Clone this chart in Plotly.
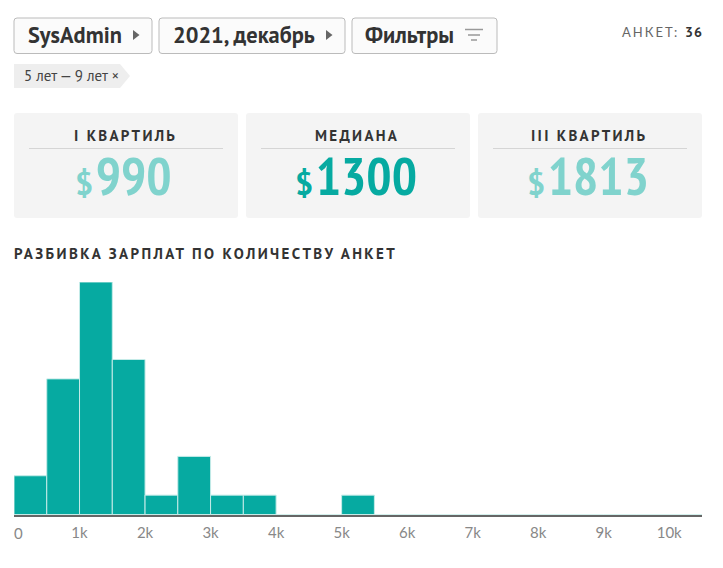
import plotly.graph_objects as go

# ----------------------------
# Data
# ----------------------------

bin_mids = [250, 750, 1250, 1750, 2250, 2750, 3250, 3750, 4250, 4750, 5250, 5750, 6250, 6750, 7250, 7750, 8250, 8750, 9250, 9750, 10250]
counts = [2, 7, 12, 8, 1, 3, 1, 1, 0, 0, 1, 0, 0, 0, 0, 0, 0, 0, 0, 0, 0]
tick_vals = [1000, 2000, 3000, 4000, 5000, 6000, 7000, 8000, 9000, 10000]
tick_text = ["1k", "2k", "3k", "4k", "5k", "6k", "7k", "8k", "9k", "10k"]

card_titles = ["I КВАРТИЛЬ", "МЕДИАНА", "III КВАРТИЛЬ"]
card_values = ["990", "1300", "1813"]

W, H = 723, 568
TEAL = "#06aaa1"
LIGHT = "#80d3cd"
DARK = "#333333"
BODY = "PT Sans, Noto Sans, sans-serif"
NARROW = "PT Sans Narrow, PT Sans, Noto Sans, sans-serif"
LATO = "Lato, sans-serif"


def px(x):
    return x / W


def py(y):
    return 1 - y / H


def rounded(x0, y0, x1, y1, r=3):
    return (
        f"M{px(x0 + r)},{py(y0)} L{px(x1 - r)},{py(y0)} Q{px(x1)},{py(y0)} {px(x1)},{py(y0 + r)} "
        f"L{px(x1)},{py(y1 - r)} Q{px(x1)},{py(y1)} {px(x1 - r)},{py(y1)} "
        f"L{px(x0 + r)},{py(y1)} Q{px(x0)},{py(y1)} {px(x0)},{py(y1 - r)} "
        f"L{px(x0)},{py(y0 + r)} Q{px(x0)},{py(y0)} {px(x0 + r)},{py(y0)} Z"
    )


shapes = []
annotations = []


def add_shape_path(path, fill, line="rgba(0,0,0,0)", width=0):
    shapes.append(dict(type="path", xref="paper", yref="paper", path=path, fillcolor=fill,
                       line=dict(color=line, width=width), layer="below"))


def add_line(x0, y0, x1, y1, color, width=1):
    shapes.append(dict(type="line", xref="paper", yref="paper", x0=px(x0), y0=py(y0), x1=px(x1), y1=py(y1),
                       line=dict(color=color, width=width), layer="below"))


def add_text(x, y, text, size, color=DARK, family=BODY, anchor="center", spacing=None):
    if spacing:
        text = f'<span style="letter-spacing:{spacing}px">{text}</span>'
    # annotations carry about 2px of padding on the anchored side
    if anchor == "left":
        x -= 2
    annotations.append(dict(xref="paper", yref="paper", x=px(x), y=py(y), text=text, showarrow=False,
                            xanchor=anchor, yanchor="middle", font=dict(size=size, color=color, family=family)))


# ----------------------------
# Buttons
# ----------------------------

for x0, x1 in [(14, 152), (159, 345), (352, 497)]:
    add_shape_path(rounded(x0, 18, x1, 53.5), "#fbfbfb", "#bbbbbb", 1)

add_text(28, 35, "<b>SysAdmin</b>", 22.4, anchor="left")
add_text(173, 35, "<b>2021, декабрь</b>", 22.4, anchor="left")
add_text(365, 35, "<b>Фильтры</b>", 22.4, anchor="left")

for x in [133, 326]:
    add_shape_path(f"M{px(x)},{py(30)} L{px(x + 6.5)},{py(35)} L{px(x)},{py(40)} Z", "#666666")

add_line(465, 29.5, 483, 29.5, "#999999", 1.5)
add_line(468, 35, 480, 35, "#999999", 1.5)
add_line(471, 40, 477, 40, "#999999", 1.5)

add_text(622, 32, "АНКЕТ:", 13, "#666666", LATO, anchor="left", spacing=2)
add_text(685, 32, "<b>36</b>", 14, anchor="left", spacing=1)

# tag
add_shape_path(f"M{px(14)},{py(64)} L{px(120)},{py(64)} L{px(130)},{py(76)} L{px(120)},{py(88)} L{px(14)},{py(88)} Z", "#eeeeee")
add_text(24, 75, "5 лет — 9 лет ×", 15, "#444444", anchor="left")

# ----------------------------
# Cards
# ----------------------------

for i, (x0, title, value) in enumerate(zip([14, 246, 478], card_titles, card_values)):
    add_shape_path(rounded(x0, 113, x0 + 224, 218), "#f4f4f4")
    add_line(x0 + 15, 148.5, x0 + 209, 148.5, "#d5d5d5", 1)
    add_text(x0 + 111, 135.5, f"<b>{title}</b>", 15, spacing=2.3)
    color = TEAL if i == 1 else LIGHT
    label = f'<span style="font-size:32px;font-family:PT Sans">$</span><span style="font-size:12px"> </span>{value}'
    add_text(x0 + 109.5, 175.5, f"<b>{label}</b>", 53, color, NARROW)

add_text(14, 254, "<b>РАЗБИВКА ЗАРПЛАТ ПО КОЛИЧЕСТВУ АНКЕТ</b>", 15, anchor="left", spacing=2.4)
add_text(14, 533, "0", 15, "#888888", LATO, anchor="left")

# ----------------------------
# Histogram
# ----------------------------

fig = go.Figure(go.Bar(x=bin_mids, y=counts, width=500,
                       marker=dict(color=TEAL, line=dict(color="#c5ebe8", width=1))))

fig.update_layout(
    width=W,
    height=H,
    margin=dict(l=0, r=0, t=0, b=0),
    paper_bgcolor="#ffffff",
    plot_bgcolor="#ffffff",
    showlegend=False,
    shapes=shapes,
    annotations=annotations,
    xaxis=dict(domain=[px(14), px(702)], range=[0, 10500], tickvals=tick_vals, ticktext=tick_text,
               showgrid=False, zeroline=False, showline=True, linecolor="#666666", linewidth=2,
               ticks="", ticklabelstandoff=3, tickfont=dict(family=LATO, size=15, color="#888888")),
    yaxis=dict(domain=[py(514.5), py(282)], range=[0, 12], showgrid=False, zeroline=False,
               showticklabels=False, ticks=""),
)

fig.write_html("out.html", config=dict(displayModeBar=False), post_script="document.body.style.margin='0';")
